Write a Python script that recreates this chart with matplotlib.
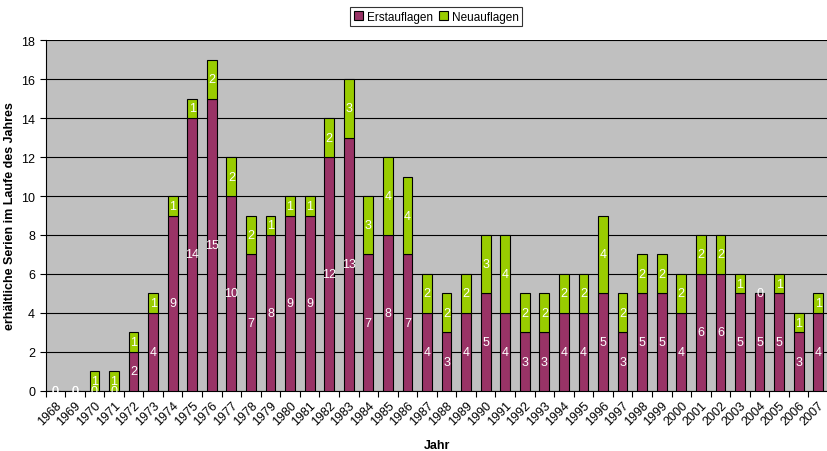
import matplotlib.pyplot as plt
import numpy as np

plt.rcParams['font.family'] = ['Liberation Sans', 'DejaVu Sans']

jahre = [str(j) for j in range(1968, 2008)]
erstauflagen = [0, 0, 0, 0, 2, 4, 9, 14, 15, 10, 7, 8, 9, 9, 12, 13, 7, 8, 7, 4,
                3, 4, 5, 4, 3, 3, 4, 4, 5, 3, 5, 5, 4, 6, 6, 5, 5, 5, 3, 4]
neuauflagen = [0, 0, 1, 1, 1, 1, 1, 1, 2, 2, 2, 1, 1, 1, 2, 3, 3, 4, 4, 2,
               2, 2, 3, 4, 2, 2, 2, 2, 4, 2, 2, 2, 2, 2, 2, 1, 0, 1, 1, 1]

fig = plt.figure(figsize=(8.28, 4.52), dpi=100)
ax = fig.add_axes([0.055, 0.133, 0.945, 0.776])
ax.set_facecolor('#C0C0C0')

x = np.arange(len(jahre))
b1 = ax.bar(x, erstauflagen, width=0.5, color='#993366', edgecolor='black',
            linewidth=0.8, label='Erstauflagen', zorder=3)
b2 = ax.bar(x, neuauflagen, width=0.5, bottom=erstauflagen, color='#99CC00',
            edgecolor='black', linewidth=0.8, label='Neuauflagen', zorder=3)

# Werte in die Balken schreiben
for i in range(len(jahre)):
    e = erstauflagen[i]
    n = neuauflagen[i]
    ax.text(x[i], e / 2, str(e), ha='center', va='center', color='white',
            fontsize=9, zorder=4)
    ax.text(x[i], e + n / 2, str(n), ha='center', va='center', color='white',
            fontsize=9, zorder=4)

ax.set_xlim(-0.5, len(jahre) - 0.5)
ax.set_ylim(0, 18)
ax.set_yticks(range(0, 19, 2))
ax.yaxis.grid(True, color='black', linewidth=0.8, zorder=1)
ax.set_xticks(x)
ax.set_xticklabels(jahre, rotation=45, ha='right', rotation_mode='anchor', fontsize=9)
ax.set_xticks(np.arange(-0.5, len(jahre), 1), minor=True)
ax.tick_params(axis='x', which='major', length=0, pad=6)
ax.tick_params(axis='x', which='minor', length=4, width=0.8)
ax.tick_params(axis='y', labelsize=9, length=4, width=0.8)
for s in ['top', 'right']:
    ax.spines[s].set_visible(False)

ax.set_ylabel('erhältliche Serien im Laufe des Jahres', fontsize=9, fontweight='bold')
ax.set_xlabel('Jahr', fontsize=9, fontweight='bold', labelpad=8)

leg = fig.legend(handles=[b1, b2], loc='upper center', bbox_to_anchor=(0.527, 0.995),
                 ncol=2, fontsize=8.5, frameon=True, fancybox=False, edgecolor='black',
                 handlelength=0.8, handleheight=0.8, handletextpad=0.3,
                 columnspacing=0.5, borderpad=0.3)
leg.get_frame().set_linewidth(0.8)

fig.savefig('out.png', dpi=100)
